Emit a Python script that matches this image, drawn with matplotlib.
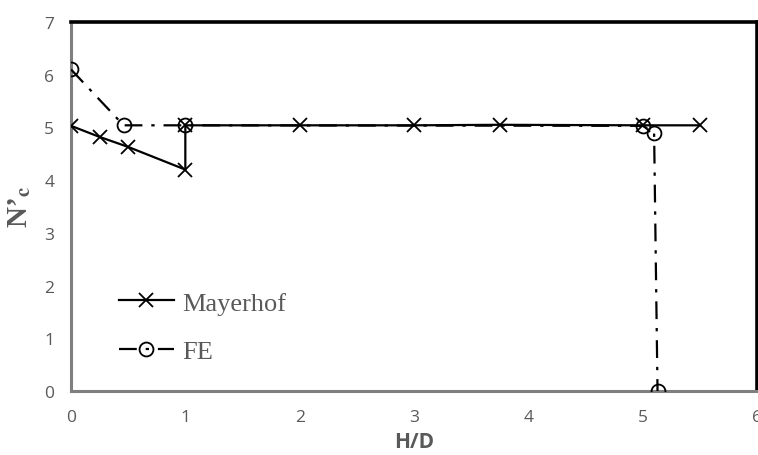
import matplotlib.pyplot as plt

# datos
mayerhof_x = [0, 0.25, 0.5, 1.0, 1.0, 2.0, 3.0, 3.75, 5.0, 5.5]
mayerhof_y = [5.03, 4.82, 4.63, 4.2, 5.04, 5.04, 5.04, 5.05, 5.04, 5.04]
fe_x = [0, 0.46, 1.0, 5.0, 5.1, 5.13]
fe_y = [6.1, 5.04, 5.04, 5.03, 4.9, 0.0]

plt.rcParams['mathtext.fontset'] = 'stix'

fig = plt.figure(figsize=(7.58, 4.56), dpi=100)
ax = fig.add_axes([71 / 758, 64 / 456, 686 / 758, 369 / 456])

ax.plot(mayerhof_x, mayerhof_y, color='black', lw=1.6, marker='x',
        markersize=10, markeredgewidth=1.3, label='Mayerhof', zorder=3)
ax.plot(fe_x, fe_y, color='black', lw=1.6, marker='o', markersize=10,
        fillstyle='none', markeredgewidth=1.3, dashes=(8, 4, 1.5, 4),
        label='FE', zorder=3)

ax.set_xlim(0, 6)
ax.set_ylim(0, 7)
ax.set_xticks(range(0, 7))
ax.set_yticks(range(0, 8))
ax.tick_params(length=0, labelsize=12.5, labelcolor='#595959')
ax.tick_params(axis='x', pad=13)
ax.tick_params(axis='y', pad=12)
for lab in ax.get_xticklabels() + ax.get_yticklabels():
    lab.set_family('Open Sans')

# bordes: izquierda/abajo grises, arriba/derecha negros
for s in ['left', 'bottom']:
    ax.spines[s].set_color('#7f7f7f')
    ax.spines[s].set_linewidth(2.2)
for s in ['top', 'right']:
    ax.spines[s].set_color('black')
    ax.spines[s].set_linewidth(2.6)

ax.set_xlabel('H/D', fontsize=15, fontweight='bold', color='#595959',
              family='Open Sans', labelpad=4)
ax.set_ylabel(r"N’$_{\mathbf{c}}$", fontsize=21, fontweight='bold',
              family='Liberation Serif', color='#595959', labelpad=8)

leg = ax.legend(loc='upper left', bbox_to_anchor=(0.035, 0.335), frameon=False,
                prop={'family': 'Liberation Serif', 'size': 19},
                labelspacing=0.95, handlelength=2.1, handletextpad=0.3)
for t in leg.get_texts():
    t.set_color('#595959')

fig.savefig('out.png', dpi=100)
